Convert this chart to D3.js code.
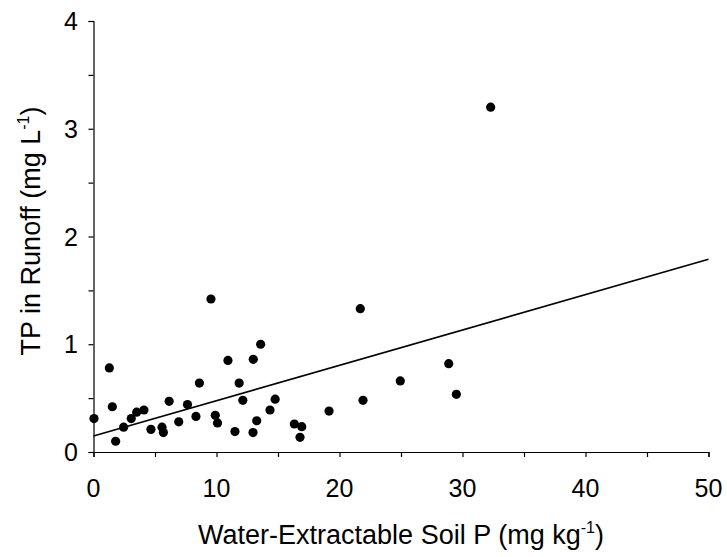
<!DOCTYPE html>
<html>
<head>
<meta charset="utf-8">
<script src="https://cdn.jsdelivr.net/npm/d3@7"></script>
<style>
  html, body { margin: 0; padding: 0; background: #fff; }
  svg { display: block; font-family: "Liberation Sans", Arial, sans-serif; }
</style>
</head>
<body>
<svg id="chart" width="727" height="557"></svg>
<script>
// Water-extractable soil P (mg kg-1)
const soilP = [0.04, 1.29, 1.53, 1.80, 2.45, 3.07, 3.51, 4.10, 4.67, 5.57, 5.68, 6.15, 6.93,
  7.64, 8.33, 8.61, 9.55, 9.90, 10.08, 10.93, 11.50, 11.84, 12.14, 12.99, 12.97, 13.27, 13.59,
  14.35, 14.77, 16.33, 16.93, 16.79, 19.15, 21.69, 21.91, 24.94, 28.88, 29.50, 32.29];
// TP in runoff (mg L-1)
const runoffTP = [0.31, 0.78, 0.42, 0.10, 0.23, 0.31, 0.37, 0.39, 0.21, 0.23, 0.18, 0.47, 0.28,
  0.44, 0.33, 0.64, 1.42, 0.34, 0.27, 0.85, 0.19, 0.64, 0.48, 0.86, 0.18, 0.29, 1.00,
  0.39, 0.49, 0.26, 0.235, 0.136, 0.38, 1.33, 0.48, 0.66, 0.82, 0.535, 3.20];
// Regression line endpoints
const fitX = [0, 50];
const fitY = [0.148, 1.789];
// Axis ticks
const xTicks = [0, 10, 20, 30, 40, 50];
const xMinorTicks = [5, 15, 25, 35, 45];
const yTicks = [0, 1, 2, 3, 4];
const yMinorTicks = [0.5, 1.5, 2.5, 3.5];

const svg = d3.select("#chart");
const x = d3.scaleLinear().domain([0, 50]).range([93.5, 708.5]);
const y = d3.scaleLinear().domain([0, 4]).range([452, 21]);

// axes
const gx = svg.append("g").attr("transform", `translate(0,${y(0)})`);
gx.call(d3.axisBottom(x).tickValues(xTicks.concat(xMinorTicks)).tickSize(5).tickFormat(""));
gx.select(".domain").attr("stroke", "#000").attr("stroke-width", 1.2);
gx.selectAll(".tick line").attr("stroke", "#000").attr("stroke-width", 1.2);

const gy = svg.append("g").attr("transform", `translate(${x(0)},0)`);
gy.call(d3.axisLeft(y).tickValues(yTicks.concat(yMinorTicks)).tickSize(5).tickFormat(""));
gy.select(".domain").attr("stroke", "#000").attr("stroke-width", 1.2);
gy.selectAll(".tick line").attr("stroke", "#000").attr("stroke-width", 1.2);

// tick labels
svg.append("g").selectAll("text").data(xTicks).join("text")
  .attr("x", d => x(d)).attr("y", 497)
  .attr("text-anchor", "middle").attr("font-size", 25).attr("fill", "#000")
  .text(d => d);
svg.append("g").selectAll("text").data(yTicks).join("text")
  .attr("x", 78).attr("y", d => y(d) + 9)
  .attr("text-anchor", "end").attr("font-size", 25).attr("fill", "#000")
  .text(d => d);

// regression line
svg.append("line")
  .attr("x1", x(fitX[0])).attr("y1", y(fitY[0]))
  .attr("x2", x(fitX[1])).attr("y2", y(fitY[1]))
  .attr("stroke", "#000").attr("stroke-width", 1.6);

// points
svg.append("g").selectAll("circle").data(soilP.map((d, i) => [d, runoffTP[i]])).join("circle")
  .attr("cx", d => x(d[0])).attr("cy", d => y(d[1])).attr("r", 4.6).attr("fill", "#000");

// x title
const xt = svg.append("text").attr("x", 401).attr("y", 544)
  .attr("text-anchor", "middle").attr("font-size", 27).attr("fill", "#000");
xt.append("tspan").text("Water-Extractable Soil P (mg kg");
xt.append("tspan").attr("font-size", 16).attr("dy", -11).text("-1");
xt.append("tspan").attr("dy", 11).text(")");

// y title
const yt = svg.append("text").attr("transform", "translate(40,231) rotate(-90)")
  .attr("text-anchor", "middle").attr("font-size", 27).attr("fill", "#000");
yt.append("tspan").text("TP in Runoff (mg L");
yt.append("tspan").attr("font-size", 16).attr("dy", -11).text("-1");
yt.append("tspan").attr("dy", 11).text(")");
</script>
</body>
</html>
